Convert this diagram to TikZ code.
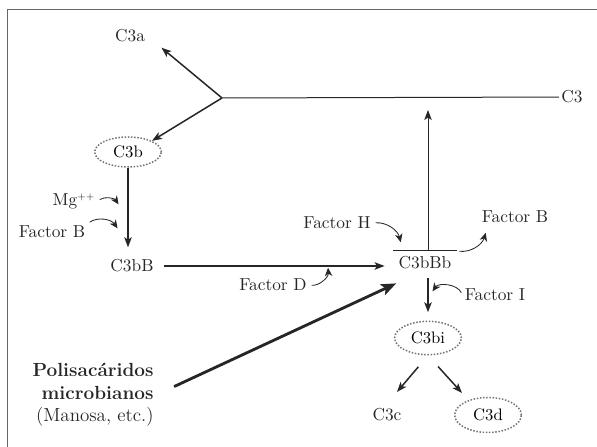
\documentclass[tikz,border=0pt]{standalone}
\usepackage{tikz}
\usetikzlibrary{positioning}
\usetikzlibrary{arrows,arrows.meta}
\usetikzlibrary{shapes}
\tikzset{
ov/.style={
  ellipse,
  inner sep=0pt,
  minimum width=40pt,
  minimum height=18pt,
  draw=black!55,
  densely dotted
  },
lbl/.style={
  inner sep=1pt,
  text=black!85,
  font=\fontsize{10.4pt}{12.5pt}\selectfont
  },
fac/.style={
  -{Stealth[length=5pt,width=4.5pt,inset=1.5pt]},
  line width=0.5pt,
  shorten >=0.5pt,
  shorten <=1.5pt
  }
}

\begin{document}
\begin{tikzpicture}[x=0.6pt,y=0.6pt,->,>={Stealth[length=6pt,width=4.5pt,inset=1.5pt]},line width=0.9pt,draw=black!85]
\useasboundingbox (0,0) rectangle (597,447);
\draw[-,line width=0.5pt,black!60] (7,0) -- (7,438) -- (597,438);
% nodes
\coordinate (j) at (222,349);
\node[lbl] (c3a) at (130,411) {C3a};
\node[lbl,anchor=west] (c3) at (559,350) {C3};
\node[ov] (c3b) at (128,295) {C3b};
\node[lbl] (c3bB) at (132,181) {C3bB};
\node[lbl] (mg) at (74,246) {Mg$^{\scriptscriptstyle ++}$};
\node[lbl] (fb1) at (52,215) {Factor B};
\node[lbl] (c3bBb) at (425,184) {C3bBb};
\node[lbl] (fd) at (273,162) {Factor D};
\node[lbl] (fh) at (337,224) {Factor H};
\node[lbl] (fb2) at (515,230) {Factor B};
\node[lbl] (fi) at (495,152) {Factor I};
\node[ov,minimum height=20pt] (c3bi) at (428,109) {C3bi};
\node[lbl] (c3c) at (387,32) {C3c};
\node[ov,minimum height=21pt] (c3d) at (488,32) {C3d};
\node[lbl,align=right,anchor=east,font=\fontsize{11.4pt}{13.6pt}\selectfont] (ps) at (156,52)
  {\textbf{Polisacáridos}\\\textbf{microbianos}\\(Manosa, etc.)};
% free ends
\coordinate (mgt) at (119,242);
\coordinate (fb1t) at (118,218);
\coordinate (fdt) at (328,180);
\coordinate (fht) at (401,204);
\coordinate (fb2t) at (486,215);
\coordinate (fit) at (432,155);
\coordinate (bl) at (393,196);
\coordinate (br) at (457,196);
\coordinate (bm) at (428,196);
\coordinate (c3t) at (428,337);
\coordinate (c3ct) at (397,55);
\coordinate (c3dt) at (462,54);
\path[->]
(j) edge [shorten >=11pt] node {} (c3a.east)
(j) edge [-,line width=0.6pt] node {} (c3)
(j) edge [] node {} (c3b.25)
(c3b) edge [shorten >=6pt] node {} (c3bB.north -| c3b)
(c3bB) edge [shorten <=5pt,shorten >=7pt] node {} (c3bBb.west |- c3bB)
(bl) edge [-,line width=0.6pt] node {} (br)
(bm) edge [line width=0.6pt] node {} (c3t)
(c3bBb.south -| c3bi) edge [shorten <=4pt,shorten >=5pt] node {} (c3bi)
(c3bi.south) edge [shorten <=9pt] node {} (c3ct)
(c3bi.south) edge [shorten <=9pt] node {} (c3dt)
;
\draw[-{Stealth[length=9pt,width=7pt,inset=2pt]},line width=1.7pt,shorten <=12pt] (ps.east) -- ([yshift=-7pt]c3bBb.south west);
\path[fac]
(mg.east) edge [bend left=45] node {} (mgt)
(fb1.north east) edge [bend left=45] node {} (fb1t)
(fd.east) edge [bend right=50] node {} (fdt)
(fh.east) edge [bend left=40] node {} (fht)
(br) edge [bend right=40] node {} (fb2t)
(fi.west) edge [bend right=60] node {} (fit)
;
\end{tikzpicture}
\end{document}
